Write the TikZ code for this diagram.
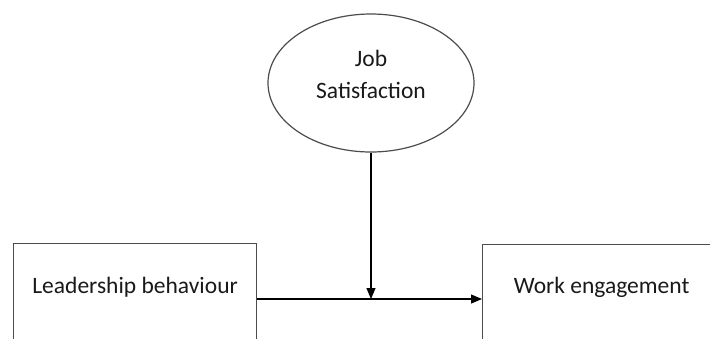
\documentclass[tikz,border=0pt]{standalone}
\usepackage{fontspec}
\setmainfont{Carlito}
\usetikzlibrary{arrows.meta,shapes.geometric}
\begin{document}
\begin{tikzpicture}[x=1pt, y=1pt, every node/.style={
    draw=black!70,
    line width=1.2pt,
    text=black!90,
    font=\fontsize{23.5}{32}\selectfont,
    inner sep=0pt
}]
    \useasboundingbox (0, 0) rectangle (710, -338);
    \clip (0, 0) rectangle (710, -338);
    \node (job_satisfaction) [ellipse, align=center, minimum width=206pt, minimum height=138pt, text height=49pt, text depth=19pt] at (371, -83)
    {
        Job\\Satisfaction
    };
    \node (leadership_behaviour) [rectangle, anchor=north west, minimum width=243pt, text height=50pt, text depth=80pt] at (13, -243)
    {
        Leadership behaviour
    };
    \node (work_engagement) [rectangle, anchor=north west, minimum width=260pt, text height=49pt, text depth=80pt] at (482, -244)
    {
        \hspace*{-22pt}Work engagement
    };
    \coordinate (meet) at (371, -299);
    \draw[-{Triangle[length=11pt, width=9pt]}, line width=1.2pt] (job_satisfaction.south) to (meet);
    \draw[-{Triangle[length=11pt, width=9pt]}, line width=1.2pt] (leadership_behaviour.east |- meet) to (work_engagement.west |- meet);
\end{tikzpicture}
\end{document}
